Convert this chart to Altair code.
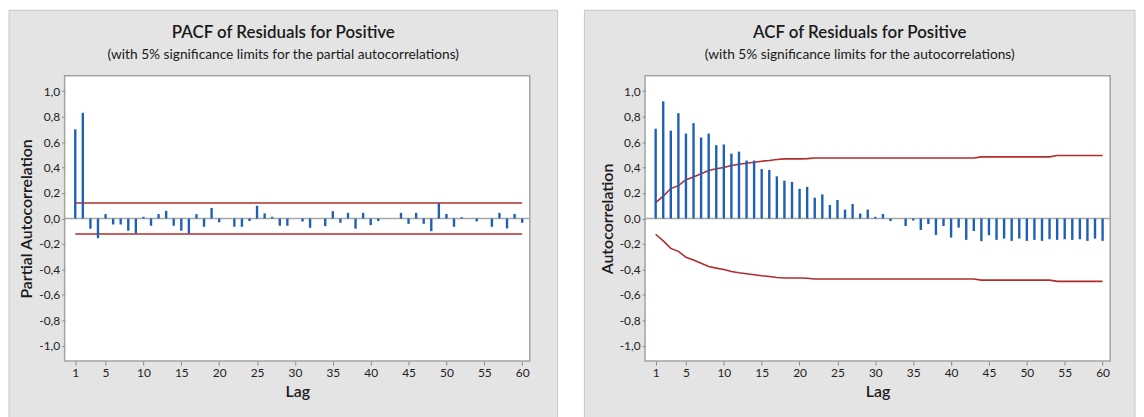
import altair as alt
import pandas as pd

lags = list(range(1, 61))

pacf = [0.70, 0.83, -0.08, -0.155, 0.034, -0.047, -0.047, -0.096, -0.117, 0.013,
        -0.057, 0.034, 0.06, -0.057, -0.096, -0.117, 0.034, -0.065, 0.083, -0.03,
        0.0, -0.065, -0.065, -0.02, 0.10, 0.04, 0.013, -0.057, -0.057, 0.0,
        -0.024, -0.073, 0.0, -0.06, 0.057, -0.034, 0.044, -0.08, 0.044, -0.052,
        -0.02, 0.0, 0.0, 0.044, -0.042, 0.044, -0.042, -0.1, 0.12, 0.036,
        -0.065, 0.01, 0.0, -0.023, 0.0, -0.065, 0.044, -0.078, 0.036, -0.034]

acf = [0.705, 0.92, 0.69, 0.827, 0.667, 0.749, 0.636, 0.667, 0.576, 0.581,
       0.509, 0.525, 0.455, 0.455, 0.388, 0.382, 0.331, 0.297, 0.287, 0.233,
       0.248, 0.163, 0.189, 0.106, 0.145, 0.07, 0.114, 0.039, 0.07, 0.013,
       0.035, -0.02, 0.0, -0.059, -0.016, -0.09, -0.044, -0.129, -0.059, -0.15,
       -0.072, -0.168, -0.098, -0.178, -0.132, -0.168, -0.158, -0.176, -0.158, -0.176,
       -0.168, -0.176, -0.163, -0.168, -0.163, -0.168, -0.163, -0.176, -0.158, -0.176]

acf_limit = [0.124, 0.176, 0.235, 0.258, 0.305, 0.326, 0.351, 0.377, 0.39, 0.40,
             0.416, 0.426, 0.434, 0.442, 0.45, 0.455, 0.463, 0.468, 0.468, 0.468,
             0.47, 0.475, 0.475, 0.475, 0.475, 0.475, 0.475, 0.475, 0.475, 0.475,
             0.475, 0.475, 0.475, 0.475, 0.475, 0.475, 0.475, 0.475, 0.475, 0.475,
             0.475, 0.475, 0.475, 0.484, 0.484, 0.484, 0.484, 0.484, 0.484, 0.484,
             0.484, 0.484, 0.484, 0.494, 0.494, 0.494, 0.494, 0.494, 0.494, 0.494]

pacf_limit = 0.122

x_ticks = [1, 5, 10, 15, 20, 25, 30, 35, 40, 45, 50, 55, 60]
y_ticks = [-1.0, -0.8, -0.6, -0.4, -0.2, 0.0, 0.2, 0.4, 0.6, 0.8, 1.0]

FONT = "Lato"
W, H = 468, 287
BLUE = "#1f5fb4"
RED = "#b02c2c"

xs = alt.Scale(domain=[-0.4, 61], nice=False, zero=False)
ys = alt.Scale(domain=[-1.12, 1.12], nice=False, zero=False)

xaxis = alt.Axis(values=x_ticks, domain=False, grid=False, tickColor="#8a8a8a", tickSize=4,
                 labelFont=FONT, labelFontSize=12, labelColor="#222222", labelPadding=2,
                 title="Lag", titleFont=FONT, titleFontSize=16, titleFontWeight=600,
                 titleColor="#1a1a1a", titlePadding=6, zindex=1)


def yaxis(title):
    return alt.Axis(values=y_ticks, domain=False, grid=False, tickColor="#8a8a8a", tickSize=3,
                    labelExpr="replace(replace(format(datum.value, '.1f'), '.', ','), '\u2212', '-')",
                    labelFont=FONT, labelFontSize=12, labelColor="#222222", labelPadding=2,
                    title=title, titleFont=FONT, titleFontSize=16, titleFontWeight=600,
                    titleColor="#1a1a1a", titlePadding=4, zindex=1)


def panel(values, title, subtitle, ytitle, left_ext, right_ext, limit_layers):
    df = pd.DataFrame({"lag": lags, "value": values, "base": 0.0})
    one = pd.DataFrame({"k": [0]})
    ya = yaxis(ytitle)
    bg = alt.Chart(one).mark_rect(fill="#e4e4e4", stroke="#c8c8c8", strokeWidth=1).encode(
        x=alt.value(-left_ext), x2=alt.value(W + right_ext), y=alt.value(-66), y2=alt.value(H + 60))
    frame = alt.Chart(one).mark_rect(fill="white", stroke="#a3a3a3", strokeWidth=1.5).encode(
        x=alt.value(0), x2=alt.value(W), y=alt.value(0), y2=alt.value(H))
    cx = (W + right_ext - left_ext) / 2
    t1 = alt.Chart(one).mark_text(text=title, font=FONT, fontSize=17, fontWeight=600,
                                  color="#1a1a1a", align="center", baseline="alphabetic").encode(
        x=alt.value(cx), y=alt.value(-38))
    t2 = alt.Chart(one).mark_text(text=subtitle, font=FONT, fontSize=13.8,
                                  color="#1a1a1a", align="center", baseline="alphabetic").encode(
        x=alt.value(cx), y=alt.value(-17))
    zero = alt.Chart(pd.DataFrame({"v": [0.0]})).mark_rule(color="#a8a8a8", strokeWidth=1.5).encode(
        y=alt.Y("v:Q", scale=ys, axis=ya), x=alt.value(0), x2=alt.value(W))
    bars = alt.Chart(df).mark_rule(color=BLUE, strokeWidth=2.4).encode(
        x=alt.X("lag:Q", scale=xs, axis=xaxis),
        y=alt.Y("base:Q", scale=ys, axis=ya),
        y2="value:Q")
    lim = limit_layers(ya)
    return alt.layer(bg, frame, zero, *lim, bars, t1, t2).properties(width=W, height=H)


def pacf_limits(ya):
    d = pd.DataFrame({"a": [1, 1], "b": [60, 60], "y": [pacf_limit, -pacf_limit]})
    return [alt.Chart(d).mark_rule(color=RED, strokeWidth=1.6).encode(
        x=alt.X("a:Q", scale=xs, axis=xaxis), x2="b:Q", y=alt.Y("y:Q", scale=ys, axis=ya))]


def acf_limits(ya):
    d = pd.DataFrame({"lag": lags, "upper": acf_limit})
    up = alt.Chart(d).mark_line(color=RED, strokeWidth=1.6).encode(
        x=alt.X("lag:Q", scale=xs, axis=xaxis), y=alt.Y("upper:Q", scale=ys, axis=ya))
    lo = alt.Chart(d).transform_calculate(lower="-datum.upper").mark_line(color=RED, strokeWidth=1.6).encode(
        x=alt.X("lag:Q", scale=xs, axis=xaxis), y=alt.Y("lower:Q", scale=ys, axis=ya))
    return [up, lo]


left = panel(pacf, "PACF of Residuals for Positive",
             "(with 5% significance limits for the partial autocorrelations)",
             "Partial Autocorrelation", 56, 28, pacf_limits)
right = panel(acf, "ACF of Residuals for Positive",
              "(with 5% significance limits for the autocorrelations)",
              "Autocorrelation", 61, 25, acf_limits)

chart = alt.hconcat(left, right, spacing=25).properties(padding=0, background="white").configure_view(stroke=None)

chart.save("out.html", embed_options={"renderer": "svg", "actions": False})
